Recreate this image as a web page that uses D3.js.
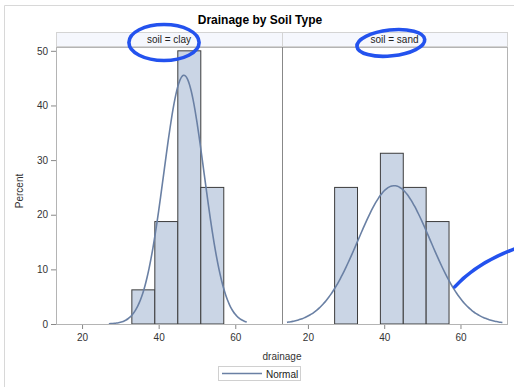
<!DOCTYPE html>
<html>
<head>
<meta charset="utf-8">
<script src="https://cdn.jsdelivr.net/npm/d3@7"></script>
<style>
  body { margin: 0; background: #fff; }
  svg { font-family: "Liberation Sans", Arial, sans-serif; display: block; }
</style>
</head>
<body>
<svg id="chart" width="514" height="389"></svg>
<script>
// data
const panels = ["clay", "sand"];
const binWidth = 6;
const clayBinStarts = [33, 39, 45, 51];
const clayPercent = [6.25, 18.75, 50, 25];
const sandBinStarts = [27, 39, 45, 51];
const sandPercent = [25, 31.25, 25, 18.75];
// fitted normal: mean, std dev, drawn range
const normalMean = [46.6, 42.6];
const normalSd = [5.25, 9.45];
const normalFrom = [27, 14.5];
const normalTo = [63, 71];
const xTicks = [20, 40, 60];
const yTicks = [0, 10, 20, 30, 40, 50];

const binStarts = [clayBinStarts, sandBinStarts];
const percents = [clayPercent, sandPercent];

const svg = d3.select("#chart");
const plotTop = 47, plotBottom = 324;
const panelX = [[56, 282], [282, 507]];

const y = d3.scaleLinear().domain([0, 50.7]).range([plotBottom, plotTop]);

// outer frame (left + top visible)
svg.append("path")
  .attr("d", "M4.5,387V5.5H514")
  .attr("fill", "none")
  .attr("stroke", "#d8d8d8");

svg.append("text")
  .attr("x", 260).attr("y", 24)
  .attr("text-anchor", "middle")
  .attr("font-size", 12).attr("font-weight", "bold")
  .attr("fill", "#000")
  .text("Drainage by Soil Type");

// y axis
const yAxisG = svg.append("g")
  .attr("transform", "translate(56,0)")
  .call(d3.axisLeft(y).tickValues(yTicks).tickSize(5).tickPadding(3));
yAxisG.select(".domain").remove();
yAxisG.selectAll(".tick line").attr("stroke", "#888");
yAxisG.selectAll(".tick text").attr("font-size", 10).attr("fill", "#333")
  .attr("font-family", "Liberation Sans, Arial, sans-serif");

svg.append("text")
  .attr("transform", "translate(23,191) rotate(-90)")
  .attr("text-anchor", "middle")
  .attr("font-size", 10).attr("fill", "#333")
  .text("Percent");

const line = d3.line().curve(d3.curveBasis);

panels.forEach((p, i) => {
  const x = d3.scaleLinear().domain([13.2, 72.2]).range(panelX[i]);
  const g = svg.append("g");

  // header
  g.append("rect")
    .attr("x", panelX[i][0] + 0.5).attr("y", 32.5)
    .attr("width", panelX[i][1] - panelX[i][0]).attr("height", 14)
    .attr("fill", "#f5f7fd").attr("stroke", "#d4d4d4");
  g.append("text")
    .attr("class", "hdr")
    .attr("x", (panelX[i][0] + panelX[i][1]) / 2).attr("y", 43)
    .attr("text-anchor", "middle")
    .attr("font-size", 10).attr("fill", "#222")
    .text("soil = " + p);

  // bars
  g.selectAll("rect.bar")
    .data(binStarts[i].map((b, j) => ({ b: b, v: percents[i][j] })))
    .enter().append("rect")
    .attr("class", "bar")
    .attr("x", d => x(d.b))
    .attr("y", d => y(d.v))
    .attr("width", d => x(d.b + binWidth) - x(d.b))
    .attr("height", d => y(0) - y(d.v))
    .attr("fill", "#cad5e5")
    .attr("stroke", "#3c3c3c")
    .attr("stroke-width", 1);

  // normal curve
  const m = normalMean[i], s = normalSd[i];
  const xs = d3.range(normalFrom[i], normalTo[i] + 0.01, 0.5);
  const pts = xs.map(v => [x(v), y(100 * binWidth / (s * Math.sqrt(2 * Math.PI)) * Math.exp(-0.5 * ((v - m) / s) ** 2))]);
  g.append("path")
    .attr("d", line(pts))
    .attr("fill", "none")
    .attr("stroke", "#6a80a4")
    .attr("stroke-width", 1.6);

  // x axis
  const xAxisG = g.append("g")
    .attr("transform", "translate(0," + plotBottom + ")")
    .call(d3.axisBottom(x).tickValues(xTicks).tickSize(5).tickPadding(5));
  xAxisG.select(".domain").remove();
  xAxisG.selectAll(".tick line").attr("stroke", "#888");
  xAxisG.selectAll(".tick text").attr("font-size", 10).attr("fill", "#333")
    .attr("font-family", "Liberation Sans, Arial, sans-serif");

  // panel frame
  g.append("rect")
    .attr("x", panelX[i][0] + 0.5).attr("y", plotTop + 0.5)
    .attr("width", panelX[i][1] - panelX[i][0]).attr("height", plotBottom - plotTop)
    .attr("fill", "none").attr("stroke", "#b4b4b4");

  // hand-drawn highlight round the header label
  const bb = g.select("text.hdr").node().getBBox();
  const cx = bb.x + bb.width / 2, cy = bb.y + bb.height / 2;
  g.append("ellipse")
    .attr("cx", cx + (i == 0 ? -5 : -4))
    .attr("cy", cy + 3)
    .attr("rx", bb.width / 2 + (i == 0 ? 13 : 10))
    .attr("ry", i == 0 ? 18 : 13)
    .attr("transform", i == 1 ? "rotate(-6," + cx + "," + cy + ")" : null)
    .attr("fill", "none")
    .attr("stroke", "#2352ee")
    .attr("stroke-width", 3.6);

  if (i == 1) {
    const sx = x(58.5), sy = y(6.8);
    g.append("path")
      .attr("d", "M" + sx + "," + sy + "Q" + (sx + 22) + "," + (sy - 24) + " " + (sx + 60) + "," + (sy - 38))
      .attr("fill", "none")
      .attr("stroke", "#2352ee")
      .attr("stroke-width", 3.6)
      .attr("stroke-linecap", "round");
  }
});

// darker divider between panels
svg.append("line")
  .attr("x1", 282.5).attr("x2", 282.5).attr("y1", plotTop).attr("y2", plotBottom)
  .attr("stroke", "#888");

svg.append("text")
  .attr("x", 282).attr("y", 360)
  .attr("text-anchor", "middle")
  .attr("font-size", 10).attr("fill", "#333")
  .text("drainage");

// legend
const leg = svg.append("g");
leg.append("rect")
  .attr("x", 218.5).attr("y", 366.5).attr("width", 82).attr("height", 14)
  .attr("fill", "#fff").attr("stroke", "#d0d0d0");
leg.append("line")
  .attr("x1", 222).attr("x2", 262).attr("y1", 373.5).attr("y2", 373.5)
  .attr("stroke", "#6a80a4").attr("stroke-width", 1.6);
leg.append("text")
  .attr("x", 266).attr("y", 377.5)
  .attr("font-size", 10).attr("fill", "#222")
  .text("Normal");
</script>
</body>
</html>
